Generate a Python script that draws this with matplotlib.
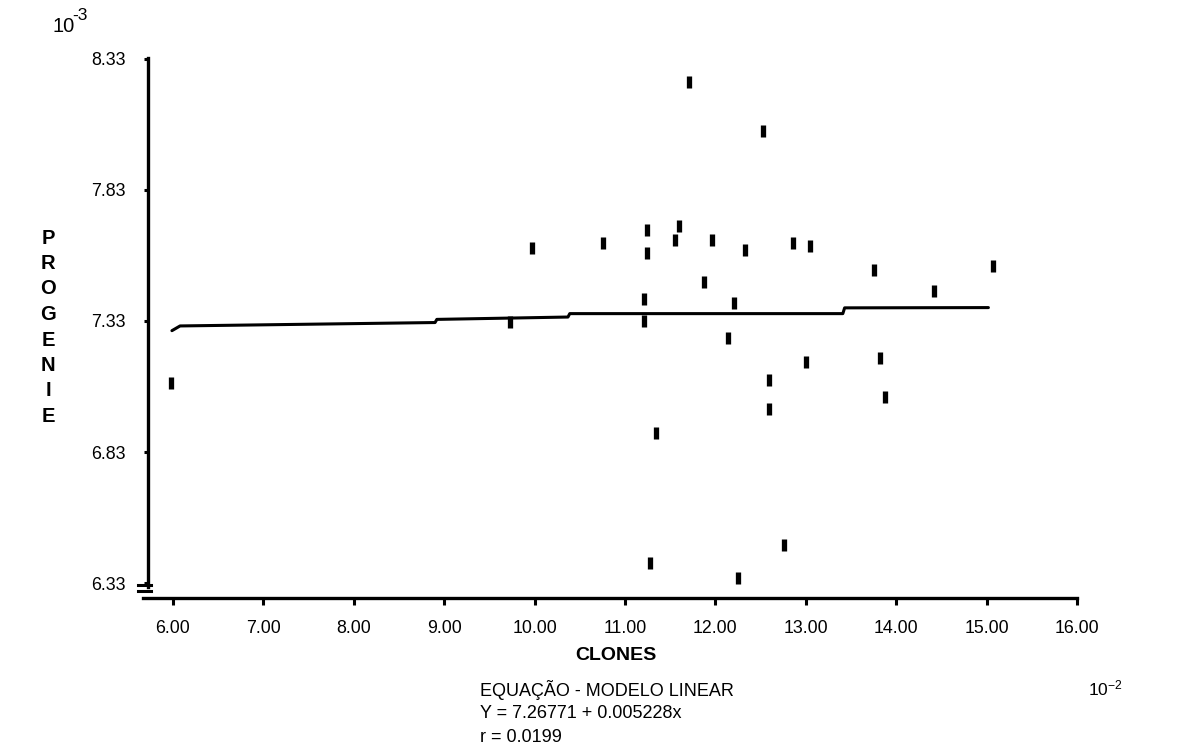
import matplotlib
matplotlib.use("Agg")
import matplotlib.pyplot as plt

plt.rcParams['font.family'] = ['Liberation Sans', 'DejaVu Sans']
plt.rcParams['mathtext.fontset'] = 'custom'
plt.rcParams['mathtext.rm'] = 'Liberation Sans'
plt.rcParams['mathtext.it'] = 'Liberation Sans:italic'
plt.rcParams['mathtext.bf'] = 'Liberation Sans:bold'

# clones (x, units of 10^-2) and progenie (y, units of 10^-3)
clone_x = [5.98, 9.73, 9.97, 10.76, 11.24, 11.24, 11.21, 11.21, 11.60, 11.55,
           11.71, 11.87, 11.96, 12.21, 12.14, 12.33, 12.53, 12.86, 13.05, 12.59,
           12.59, 13.00, 13.75, 13.82, 13.88, 14.42, 15.07, 11.34, 11.28, 12.25,
           12.76]
prog_y = [7.093, 7.326, 7.61, 7.628, 7.677, 7.590, 7.414, 7.33, 7.693, 7.639,
          8.242, 7.479, 7.639, 7.399, 7.265, 7.601, 8.055, 7.628, 7.616, 7.105,
          6.994, 7.173, 7.525, 7.189, 7.04, 7.445, 7.54, 6.903, 6.406, 6.349,
          6.475]

# fitted line as traced by the plotter (with its small steps)
line_x = [5.99, 6.08, 8.90, 8.92, 10.37, 10.39, 13.41, 13.43, 15.02]
line_y = [7.293, 7.311, 7.324, 7.336, 7.345, 7.358, 7.358, 7.380, 7.381]

x_ticks = [6, 7, 8, 9, 10, 11, 12, 13, 14, 15, 16]
y_ticks = [6.33, 6.83, 7.33, 7.83, 8.33]

W, H = 1182, 751
fig = plt.figure(figsize=(W / 100, H / 100), dpi=100)
ax = fig.add_axes([143 / W, 1 - 598 / H, (1077 - 143) / W, (598 - 51) / H])
ax.set_xlim(5.67, 16.0)
ax.set_ylim(6.273, 8.36)

for s in ['top', 'right']:
    ax.spines[s].set_visible(False)
ax.spines['bottom'].set_linewidth(2.4)
ax.spines['left'].set_linewidth(2.4)
ax.spines['left'].set_position(('data', 5.723))
ax.spines['left'].set_bounds(6.315, 8.335)

ax.set_xticks(x_ticks)
ax.set_xticklabels([f"{v:.2f}" for v in x_ticks])
ax.set_yticks(y_ticks)
ax.set_yticklabels([f"{v:.2f}" for v in y_ticks])
ax.tick_params(axis='x', length=5, width=2.2, pad=11, labelsize=12.8)
ax.tick_params(axis='y', length=3, width=2.2, pad=13, labelsize=12.8)

ax.plot(line_x, line_y, color='black', lw=2.2, solid_capstyle='round')
ax.plot(clone_x, prog_y, ls='none', marker='|', ms=9, mew=3.8, color='black')

# axis break marks at the foot of the y axis
for yb in [6.322, 6.298]:
    ax.plot([5.61, 5.76], [yb, yb], color='black', lw=2.2, clip_on=False)

def ftext(x, y, s, **kw):
    fig.text(x / W, 1 - y / H, s, **kw)

ftext(52, 26, '10', fontsize=14.5, va='center', ha='left')
ftext(72, 15, '-3', fontsize=12.5, va='center', ha='left')
ftext(1088, 688, r'$10^{-2}$', fontsize=12.5, va='center', ha='left')

for i, ch in enumerate("PROGENIE"):
    ftext(48, 238 + i * 25.5, ch, fontsize=14.5, fontweight='bold', ha='center', va='center')

ftext(616, 655, 'CLONES', fontsize=14, fontweight='bold', ha='center', va='center')
ftext(480, 690, 'EQUAÇÃO - MODELO LINEAR', fontsize=13, ha='left', va='center')
ftext(480, 713, 'Y = 7.26771 + 0.005228x', fontsize=13, ha='left', va='center')
ftext(480, 737, 'r = 0.0199', fontsize=13, ha='left', va='center')

fig.savefig('out.png', dpi=100, facecolor='white')
